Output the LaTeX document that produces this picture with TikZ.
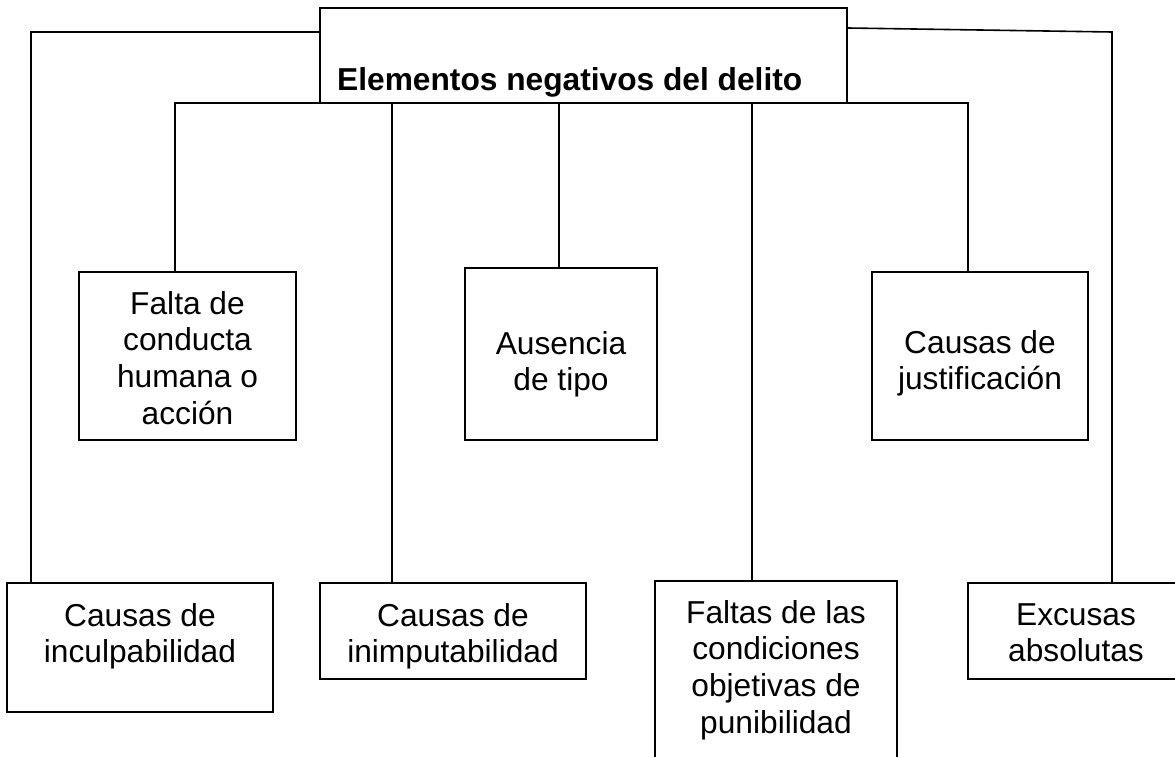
\documentclass[tikz,border=0pt]{standalone}
\usepackage{fontspec}
\setmainfont{Liberation Sans}
\tikzset{
  box/.style={draw, line width=1.6pt, inner sep=0pt},
  txt/.style={align=center, inner sep=0pt, font=\fontsize{31.7}{36.7}\selectfont, anchor=north},
  conn/.style={line width=1.6pt}
}
\begin{document}
\begin{tikzpicture}[x=1pt,y=-1pt]
\useasboundingbox (0,0) rectangle (1175,757);
\clip (0,0) rectangle (1175,757);
% boxes
\node[box, minimum width=527pt, minimum height=95pt] (top) at (583.5,55.5) {};
\node[box, minimum width=217pt, minimum height=168pt] (falta) at (187.5,356) {};
\node[box, minimum width=192pt, minimum height=172pt] (ausen) at (561,354) {};
\node[box, minimum width=216pt, minimum height=168pt] (justif) at (980,356) {};
\node[box, minimum width=266pt, minimum height=129pt] (incul) at (140,647.5) {};
\node[box, minimum width=266pt, minimum height=96pt] (inimp) at (453,631) {};
\node[box, minimum width=242pt, minimum height=199pt] (faltas) at (776,680.5) {};
\node[box, minimum width=222pt, minimum height=96pt] (excus) at (1079,631) {};
% texts
\node[txt, anchor=base west, font=\fontsize{31.7}{36.7}\selectfont\bfseries] (ttop) at (337,91) {Elementos negativos del delito};
\node[txt] (tfalta) at (187.5,291) {Falta de\\conducta\\humana o\\acción};
\node[txt] (tausen) at (561,331) {Ausencia\\de tipo};
\node[txt] (tjustif) at (980,330) {Causas de\\justificación};
\node[txt] (tincul) at (140,603) {Causas de\\inculpabilidad};
\node[txt] (tinimp) at (453,603) {Causas de\\inimputabilidad};
\node[txt] (tfaltas) at (776,600) {Faltas de las\\condiciones\\objetivas de\\punibilidad};
\node[txt] (texcus) at (1076,603) {Excusas\\absolutas};
% outer connectors
\coordinate (L) at (31,32);
\draw[conn] (top.west |- L) -- (L) -- (L |- incul.north);
\coordinate (R) at (1112,32);
\coordinate (Rs) at (847,28);
\draw[conn] (top.east |- Rs) -- (R) -- (R |- excus.north);
% bracket under the title
\coordinate (B1) at (175,103);
\coordinate (B2) at (392,103);
\coordinate (B3) at (559,103);
\coordinate (B4) at (752,103);
\coordinate (B5) at (968,103);
\draw[conn] (B1 |- falta.north) -- (B1) -- (B5) -- (B5 |- justif.north);
\draw[conn] (B2) -- (B2 |- inimp.north);
\draw[conn] (B3) -- (B3 |- ausen.north);
\draw[conn] (B4) -- (B4 |- faltas.north);
\end{tikzpicture}
\end{document}
